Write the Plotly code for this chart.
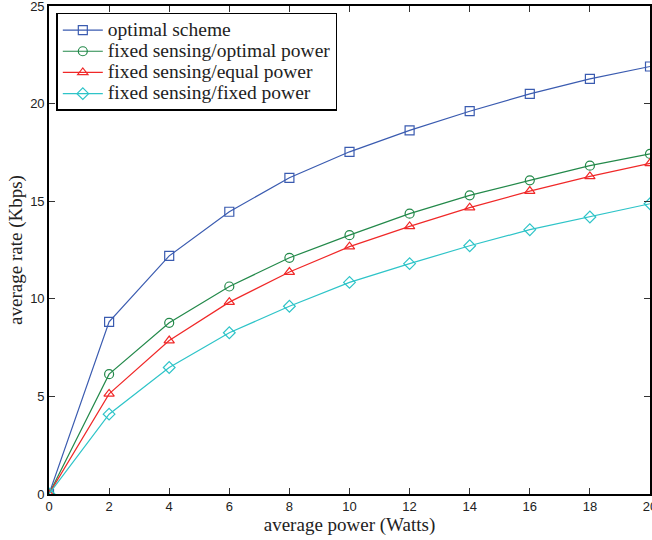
import plotly.graph_objects as go

# average transmit power (Watts)
power = [0, 2, 4, 6, 8, 10, 12, 14, 16, 18, 20]

# average rate (Kbps) for each scheme
optimal_scheme = [0, 8.82, 12.2, 14.46, 16.2, 17.53, 18.63, 19.61, 20.5, 21.27, 21.9]
fixed_sensing_optimal_power = [0, 6.14, 8.77, 10.63, 12.1, 13.26, 14.36, 15.3, 16.07, 16.82, 17.42]
fixed_sensing_equal_power = [0, 5.13, 7.86, 9.83, 11.37, 12.67, 13.71, 14.67, 15.52, 16.27, 16.94]
fixed_sensing_fixed_power = [0, 4.09, 6.48, 8.26, 9.62, 10.84, 11.8, 12.72, 13.54, 14.19, 14.87]

series = [
    ("optimal scheme", optimal_scheme, "#3a5bb0", "square-open"),
    ("fixed sensing/optimal power", fixed_sensing_optimal_power, "#23894a", "circle-open"),
    ("fixed sensing/equal power", fixed_sensing_equal_power, "#f02828", "triangle-up-open"),
    ("fixed sensing/fixed power", fixed_sensing_fixed_power, "#2ec4c8", "diamond-open"),
]

SERIF = "Liberation Serif"
SANS = "Liberation Sans"

fig = go.Figure()
for name, vals, color, symbol in series:
    fig.add_trace(go.Scatter(
        x=power, y=vals, mode="lines+markers",
        # legend rows stay compact while the label text is drawn larger
        name=f'<span style="font-size:19.5px">{name}</span>',
        line=dict(color=color, width=1.2),
        marker=dict(symbol=symbol, size=9, color=color, line=dict(color=color, width=1.2)),
    ))

axis_common = dict(
    showgrid=False, zeroline=False, showline=True, mirror="ticks",
    linecolor="black", linewidth=1.6,
    ticks="inside", ticklen=6, tickcolor="#333", tickwidth=1,
    tickfont=dict(family=SANS, size=13, color="#222"),
    ticklabeloverflow="allow", automargin=False,
)

fig.update_xaxes(
    range=[0, 20], tick0=0, dtick=2,
    title=dict(text="average power (Watts)", standoff=4,
               font=dict(family=SERIF, size=19, color="#222")),
    **axis_common,
)
fig.update_yaxes(
    range=[0, 25], tick0=0, dtick=5,
    title=dict(text="average rate (Kbps)", standoff=2,
               font=dict(family=SERIF, size=19, color="#222")),
    **axis_common,
)

fig.update_layout(
    width=652, height=540,
    margin=dict(l=49, r=2, t=6, b=46),
    paper_bgcolor="white", plot_bgcolor="white",
    legend=dict(
        x=0.012, y=0.986, xanchor="left", yanchor="top",
        bgcolor="white", bordercolor="black", borderwidth=1.6,
        font=dict(family=SERIF, size=14, color="#222"),
        tracegroupgap=0, itemwidth=40,
    ),
)

fig.write_html("out.html")
